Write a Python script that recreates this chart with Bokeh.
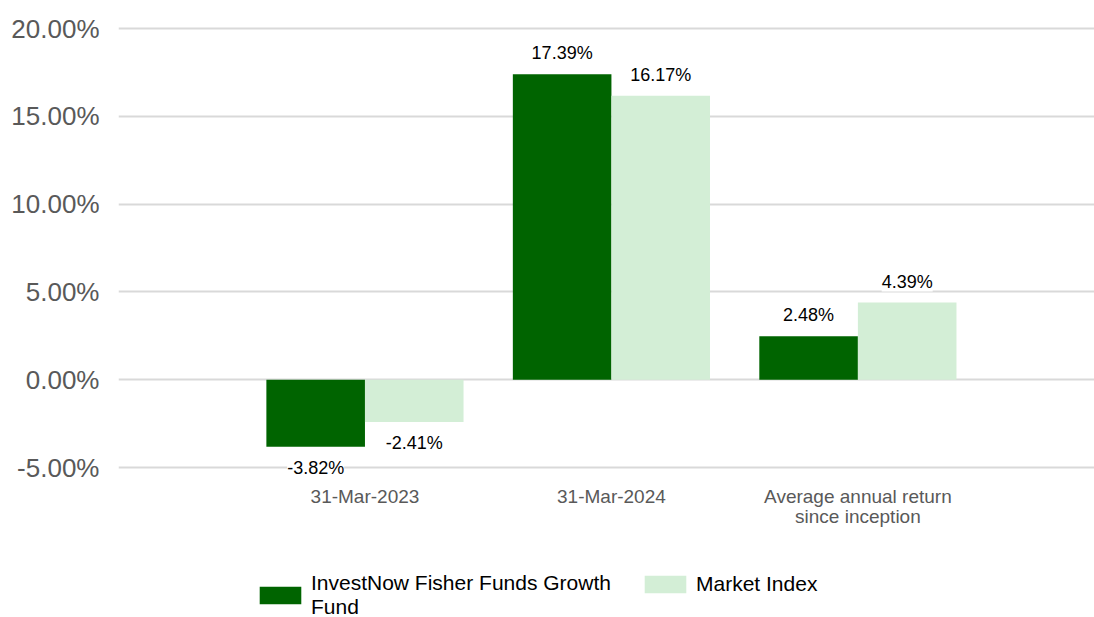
from bokeh.plotting import figure
from bokeh.models import (ColumnDataSource, Range1d, FixedTicker, LabelSet, Legend,
                          LegendItem, PrintfTickFormatter)
from bokeh.core.properties import value
from bokeh.transform import dodge
from bokeh.embed import file_html
from bokeh.resources import INLINE

categories = ["31-Mar-2023", "31-Mar-2024", "Average annual return\nsince inception"]
fund_values = [-3.82, 17.39, 2.48]
index_values = [-2.41, 16.17, 4.39]
series_names = ["InvestNow Fisher Funds Growth\nFund", "Market Index"]
y_ticks = [-5, 0, 5, 10, 15, 20]

FONT = "Liberation Sans"
DARK = "#006400"
LIGHT = "#d3eed6"

xs = list(range(len(categories)))
line1 = [c.split("\n")[0] for c in categories]
line2 = [c.split("\n")[1] if "\n" in c else "" for c in categories]
src = ColumnDataSource(dict(
    x=xs,
    cat1=line1,
    cat2=line2,
    base=[min(y_ticks)] * len(xs),
    fund=fund_values,
    index=index_values,
    fund_lbl=[f"{v:.2f}%" for v in fund_values],
    index_lbl=[f"{v:.2f}%" for v in index_values],
    fund_off=[21 if v >= 0 else -21 for v in fund_values],
    index_off=[21 if v >= 0 else -21 for v in index_values],
))

# frame spans full canvas height; 20% at y=28 px, -5% at y=467 px
ppu = 439 / 25.0
y_top = 20 + 28 / ppu
y_bot = -5 - 150 / ppu

p = figure(width=1094, height=617, output_backend="svg", toolbar_location=None,
           x_range=Range1d(-1.0, 2.96), y_range=Range1d(y_bot, y_top),
           min_border_left=118, min_border_right=0, min_border_top=0,
           min_border_bottom=0, x_axis_location=None)
p.outline_line_color = None
p.background_fill_color = "white"
p.border_fill_color = "white"

r1 = p.vbar(x=dodge("x", -0.2), top="fund", bottom=0, width=0.4, source=src,
            fill_color=DARK, line_color=None)
r2 = p.vbar(x=dodge("x", 0.2), top="index", bottom=0, width=0.4, source=src,
            fill_color=LIGHT, line_color=None)

for xo, col, lbl, off in [(-0.2, "fund", "fund_lbl", "fund_off"),
                          (0.2, "index", "index_lbl", "index_off")]:
    ls = LabelSet(x=dodge("x", xo), y=col, text=lbl, y_offset=off, source=src,
                  text_align="center", text_baseline="middle",
                  text_font=value(FONT), text_font_size="18px", text_color="#000000",
                  background_fill_color="white")
    p.add_layout(ls)

# category labels (x axis), two centred lines
for field, off in [("cat1", -35), ("cat2", -55)]:
    p.add_layout(LabelSet(x="x", y="base", text=field, y_offset=off, source=src,
                          text_align="center", text_baseline="alphabetic",
                          text_font=value(FONT), text_font_size="19px",
                          text_color="#595959"))

# y axis
p.yaxis.ticker = FixedTicker(ticks=y_ticks)
p.yaxis.formatter = PrintfTickFormatter(format="%.2f%%")
p.yaxis.axis_line_color = None
p.yaxis.major_tick_line_color = None
p.yaxis.minor_tick_line_color = None
p.yaxis.major_label_text_font = FONT
p.yaxis.major_label_text_font_size = "26px"
p.yaxis.major_label_text_color = "#595959"
p.yaxis.major_label_standoff = 13

p.xgrid.grid_line_color = None
p.ygrid.ticker = FixedTicker(ticks=y_ticks)
p.ygrid.grid_line_color = "#d9d9d9"
p.ygrid.grid_line_width = 2

legend_style = dict(label_text_font=FONT, label_text_font_size="21px",
                    label_text_color="#000000", label_text_line_height=1.15,
                    glyph_width=52, glyph_height=22, label_standoff=5,
                    padding=0, margin=0, border_line_color=None,
                    background_fill_alpha=0)
leg1 = Legend(items=[LegendItem(label=series_names[0], renderers=[r1])],
              location=(136, -2), **legend_style)
leg2 = Legend(items=[LegendItem(label=series_names[1], renderers=[r2])],
              location=(521, 21), **legend_style)
p.add_layout(leg1, "center")
p.add_layout(leg2, "center")

open("out.html", "w").write(file_html(p, INLINE))
